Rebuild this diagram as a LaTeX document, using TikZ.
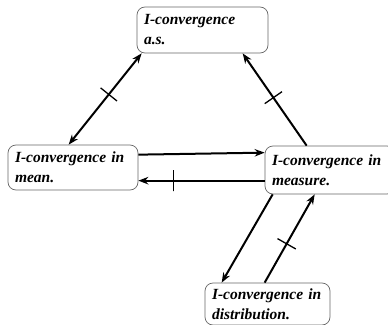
\documentclass[tikz,border=0pt]{standalone}
\usepackage{fontspec}
\setmainfont{Liberation Serif}
\usetikzlibrary{arrows.meta,calc}
\begin{document}
\begin{tikzpicture}[x=1pt,y=-1pt,
 box/.style={draw=black!60, line width=0.7pt, rounded corners=8pt, inner xsep=7pt, inner ysep=0pt, align=left, font=\fontsize{15.5}{20}\selectfont\bfseries\itshape},
 arr/.style={line width=2pt, -{Stealth[length=10pt,width=7.5pt]}},
 darr/.style={line width=2pt, {Stealth[length=10pt,width=7.5pt]}-{Stealth[length=10pt,width=7.5pt]}},
 tick/.style={sloped, draw, line width=1.3pt, inner sep=0pt, minimum width=0pt, minimum height=21pt, shape=rectangle}]
\useasboundingbox (0,0) rectangle (388,324);
\node[box, text width=117pt, minimum height=46pt] (as) at (202.5,30) {I-convergence\\a.s.};
\node[box, text width=116pt, minimum height=45pt] (mean) at (73,167.5) {I-convergence in\\mean.};
\node[box, text width=116pt, minimum height=48pt] (meas) at (330,170) {I-convergence in\\measure.};
\node[box, text width=111pt, minimum height=42pt] (dist) at (267.5,304) {I-convergence in\\distribution.};
\draw[darr] ($(mean.north west)+(61,0)$) -- node[tick,pos=0.55]{} ($(as.south west)+(5,0)$);
\draw[arr] ($(meas.north west)+(42,0)$) -- node[tick,pos=0.52]{} ($(as.south west)+(106,0)$);
\draw[arr] ($(mean.north east)+(0,10)$) -- ($(meas.north west)+(0,7)$);
\draw[arr] ($(meas.north west)+(0,35)$) -- node[tick,pos=0.72]{} ($(mean.north east)+(0,36)$);
\draw[arr] ($(meas.south west)+(8,0)$) -- ($(dist.north west)+(17,0)$);
\draw[arr] ($(dist.north west)+(60,0)$) -- node[tick,pos=0.44]{} ($(meas.south west)+(50,0)$);
\end{tikzpicture}
\end{document}
